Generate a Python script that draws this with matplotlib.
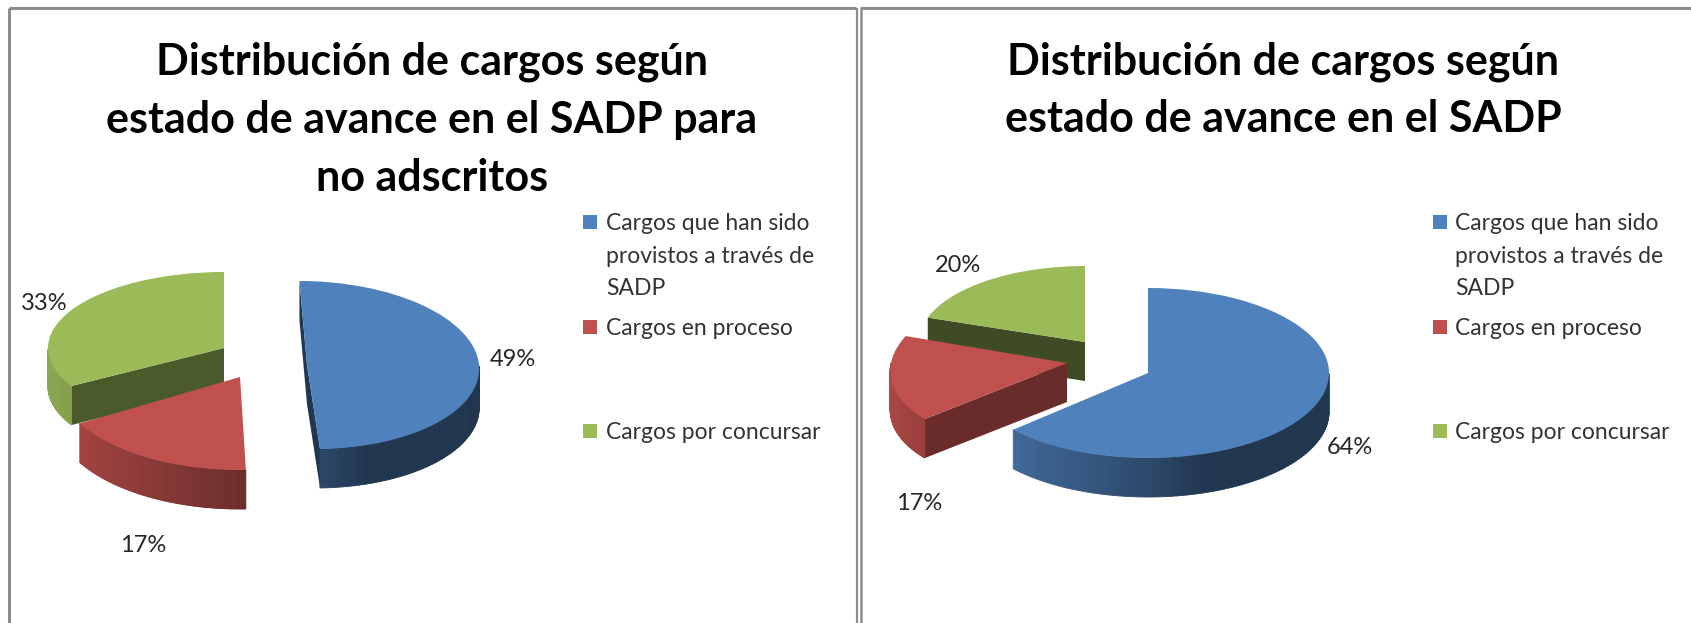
import numpy as np
import matplotlib
matplotlib.use("Agg")
import matplotlib.pyplot as plt
from matplotlib.collections import PolyCollection
from matplotlib.colors import to_rgb
from matplotlib.patches import Rectangle, Polygon
from matplotlib.transforms import Affine2D

plt.rcParams['font.family'] = ['Lato', 'DejaVu Sans']

categories = ["Cargos que han sido\nprovistos a través de\nSADP", "Cargos en proceso", "Cargos por concursar"]
colors = ["#4f81bd", "#c0504d", "#9bbb59"]

left_title = ["Distribución de cargos según", "estado de avance en el SADP para", "no adscritos"]
right_title = ["Distribución de cargos según", "estado de avance en el SADP"]
left_values = [49, 17, 33]
right_values = [64, 17, 20]

# per slice: cx, cy, rx, ry, shear (pixels of the figure)
left_slices = [(307, 365, 172, 84, 0.09), (240, 377, 185, 93, 0.0), (224, 348, 176, 76, 0.0)]
right_slices = [(1148, 373, 181, 85, 0.0), (1067, 363, 176, 84, -0.2), (1085, 342, 166, 76, 0.0)]
left_faces = [0.42, 0.55, 0.48]
right_faces = [0.42, 0.55, 0.4]
left_label_pos = [(513, 360), (143, 545), (44, 304)]
right_label_pos = [(1350, 448), (919, 504), (958, 266)]
DEPTH = 39

fig = plt.figure(figsize=(16.91, 6.23), dpi=100)
ax = fig.add_axes([0, 0, 1, 1])


def shade(color, factor):
    return tuple(c * factor for c in to_rgb(color))


def wall_factor(c):
    return np.interp(c, [-1, -0.8, 0, 0.3, 1], [0.9, 0.82, 0.56, 0.42, 0.42])


def unit(deg):
    return np.array([np.cos(np.radians(deg)), np.sin(np.radians(deg))])


def draw_pie(values, slices, faces, label_pos):
    wedges, _ = ax.pie(values, colors=colors, startangle=90, counterclock=False)
    z = 2
    # back slices first
    for i in [2, 1, 0]:
        wedge = wedges[i]
        cx, cy, rx, ry, k = slices[i]
        m = Affine2D(np.array([[rx, -k * ry, cx], [0, -ry, cy], [0, 0, 1]], dtype=float))
        apex = m.transform((0, 0))

        # cut faces that look at the viewer
        for t, sign in ((wedge.theta1, 1), (wedge.theta2, -1)):
            rim = m.transform(unit(t))
            d = rim - apex
            p = m.transform(unit(t + sign * 5)) - apex
            side = d[0] * p[1] - d[1] * p[0]
            if side * d[0] < -1:
                face = [apex, rim, rim + (0, DEPTH), apex + (0, DEPTH)]
                ax.add_patch(Polygon(face, closed=True, fc=shade(colors[i], faces[i]), ec='none', zorder=z))

        # outer wall, thin strips for the shading
        th = np.radians(np.linspace(wedge.theta1, wedge.theta2, 160))
        th = th[np.sin(th) < 0.002]
        if len(th) > 1:
            pts = m.transform(np.column_stack([np.cos(th), np.sin(th)]))
            strips = []
            strip_colors = []
            for a in range(len(th) - 1):
                strips.append([pts[a], pts[a + 1], pts[a + 1] + (0, DEPTH), pts[a] + (0, DEPTH)])
                strip_colors.append(shade(colors[i], wall_factor(np.cos(th[a]))))
            ax.add_collection(PolyCollection(strips, facecolors=strip_colors, edgecolors=strip_colors,
                                             linewidths=0.6, zorder=z))

        wedge.set_center((0, 0))
        wedge.set_radius(1)
        wedge.set_transform(m + ax.transData)
        wedge.set_zorder(z + 1)
        z += 2

    for v, (x, y) in zip(values, label_pos):
        ax.text(x, y, f"{v}%", fontsize=17, color="#262626", ha='center', va='center', zorder=10)


draw_pie(left_values, left_slices, left_faces, left_label_pos)
draw_pie(right_values, right_slices, right_faces, right_label_pos)

ax.set_aspect('auto')
ax.set_xlim(0, 1691)
ax.set_ylim(623, 0)
ax.axis('off')

# titles
for lines, cx, ys in ((left_title, 432, [62, 120, 178]), (right_title, 1283, [62, 119])):
    for line, y in zip(lines, ys):
        ax.text(cx, y, line, fontsize=31, fontweight='bold', color='black', ha='center', va='center')

# legends
for swatch_x, text_x in ((583, 606), (1433, 1455)):
    for c, label, y in zip(colors, categories, [222, 327, 431]):
        ax.add_patch(Rectangle((swatch_x, y - 7), 14, 14, fc=c, ec='none'))
        ax.text(text_x, y - 9, label, fontsize=16.5, color="#333333", ha='left', va='top', linespacing=1.68)

# panel borders
border = "#8c8c8c"
ax.plot([9, 9], [8, 623], color=border, lw=2.2, solid_capstyle='butt')
ax.plot([9, 856], [8, 8], color=border, lw=2.2, solid_capstyle='butt')
ax.plot([857, 857], [8, 623], color=border, lw=1.6, solid_capstyle='butt')
ax.plot([860.5, 860.5], [8, 623], color=border, lw=1.8, solid_capstyle='butt')
ax.plot([860, 1691], [8, 8], color=border, lw=2.2, solid_capstyle='butt')

fig.savefig("out.png", dpi=100)
